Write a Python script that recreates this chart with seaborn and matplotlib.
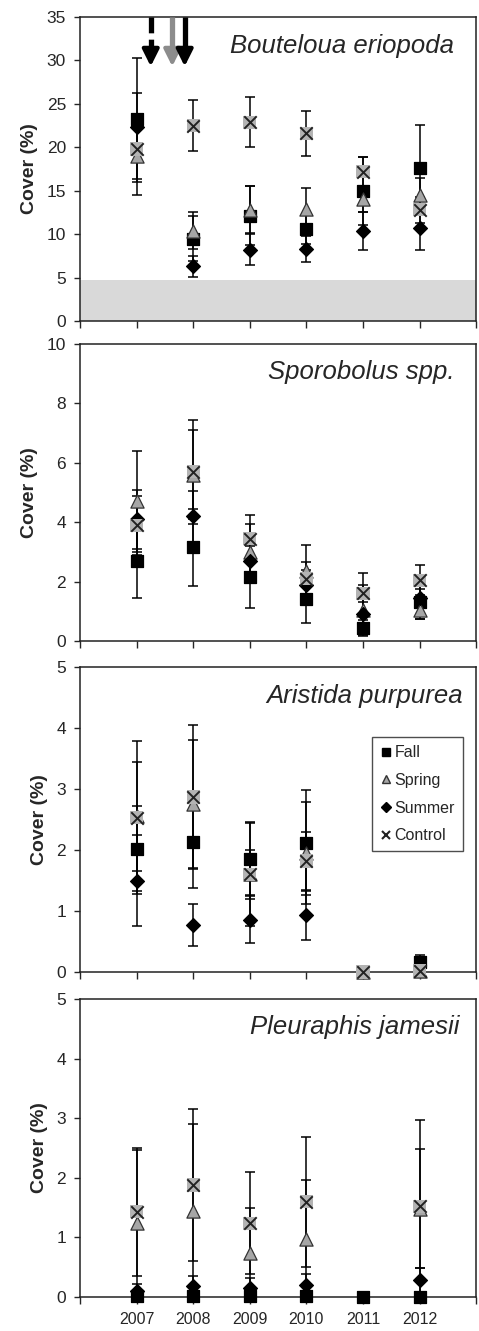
import numpy as np
import pandas as pd
import matplotlib
matplotlib.use("Agg")
import matplotlib.pyplot as plt
from matplotlib.lines import Line2D
import seaborn as sns

years = [2007, 2008, 2009, 2010, 2011, 2012]
treatments = ["Fall", "Spring", "Summer", "Control"]
nan = np.nan

# Bouteloua eriopoda
bout_mean = {"Fall": [23.3, 9.5, 12.1, 10.6, 15.0, 17.6],
             "Spring": [19.0, 10.4, 12.8, 12.9, 14.0, 14.5],
             "Summer": [22.3, 6.3, 8.2, 8.3, 10.4, 10.7],
             "Control": [19.8, 22.5, 22.9, 21.6, 17.2, 12.8]}
bout_err = {"Fall": [7.0, 2.6, 3.4, 1.7, 3.9, 5.0],
            "Spring": [4.5, 2.1, 2.7, 2.4, 1.5, 2.0],
            "Summer": [4.0, 1.2, 1.8, 1.5, 2.2, 2.5],
            "Control": [3.8, 2.9, 2.9, 2.6, 1.7, 1.5]}

# Sporobolus spp.
spor_mean = {"Fall": [2.7, 3.15, 2.15, 1.4, 0.45, 1.3],
             "Spring": [4.7, 5.6, 3.0, 2.35, 1.05, 1.05],
             "Summer": [4.1, 4.2, 2.7, 1.9, 0.9, 1.45],
             "Control": [3.9, 5.7, 3.45, 2.1, 1.6, 2.05]}
spor_err = {"Fall": [1.25, 1.3, 1.05, 0.8, 0.27, 0.55],
            "Spring": [1.7, 1.5, 0.95, 0.9, 0.85, 0.3],
            "Summer": [1.0, 0.85, 0.6, 0.5, 0.4, 0.3],
            "Control": [1.0, 1.75, 0.8, 0.55, 0.7, 0.5]}

# Aristida purpurea
aris_mean = {"Fall": [2.02, 2.13, 1.86, 2.12, nan, 0.16],
             "Spring": [2.55, 2.75, 1.6, 1.95, 0.0, 0.02],
             "Summer": [1.5, 0.77, 0.86, 0.93, nan, nan],
             "Control": [2.53, 2.87, 1.6, 1.82, 0.0, 0.02]}
aris_err = {"Fall": [0.7, 0.76, 0.6, 0.86, nan, 0.12],
            "Spring": [0.9, 1.05, 0.4, 0.83, 0.0, 0.0],
            "Summer": [0.75, 0.34, 0.38, 0.4, nan, nan],
            "Control": [1.25, 1.18, 0.85, 0.48, 0.0, 0.0]}

# Pleuraphis jamesii
pleu_mean = {"Fall": [0.02, 0.01, 0.01, 0.01, 0.0, 0.0],
             "Spring": [1.25, 1.45, 0.74, 0.97, nan, 1.48],
             "Summer": [0.1, 0.18, 0.15, 0.2, nan, 0.28],
             "Control": [1.43, 1.88, 1.24, 1.6, nan, 1.52]}
pleu_err = {"Fall": [0.02, 0.01, 0.01, 0.01, 0.0, 0.0],
            "Spring": [1.22, 1.46, 0.76, 0.99, nan, 1.0],
            "Summer": [0.12, 0.18, 0.17, 0.18, nan, 0.2],
            "Control": [1.07, 1.27, 0.86, 1.09, nan, 1.45]}

species = ["Bouteloua eriopoda", "Sporobolus spp.", "Aristida purpurea", "Pleuraphis jamesii"]
means = [bout_mean, spor_mean, aris_mean, pleu_mean]
errs = [bout_err, spor_err, aris_err, pleu_err]
ymax = [35, 10, 5, 5]
ystep = [5, 2, 1, 1]

# treatment arrows in top panel (dashed black, gray, black)
arrow_x = [2007.25, 2007.63, 2007.85]
arrow_col = ["black", "#8c8c8c", "black"]
arrow_ls = ["--", "-", "-"]
shade_top = 4.75

sns.set_style("ticks")
plt.rcParams['font.family'] = ['Liberation Sans', 'DejaVu Sans']

style = {"Fall": dict(marker="s", color="black", edgecolor="black", s=85),
         "Spring": dict(marker="^", color="#a6a6a6", edgecolor="#333333", s=90),
         "Summer": dict(marker="D", color="black", edgecolor="black", s=50),
         "Control": dict(marker="s", color="#b3b3b3", edgecolor="none", s=90)}

fig = plt.figure(figsize=(4.79, 13.31), dpi=100)
boxes = [(0.7588, 0.9872), (0.5184, 0.7415), (0.2697, 0.4989), (0.0255, 0.2494)]
title_x = [0.945, 0.945, 0.967, 0.958]

for i in range(4):
    b0, b1 = boxes[i]
    ax = fig.add_axes([0.167, b0, 0.827, b1 - b0])
    rows = []
    for t in treatments:
        for y, m, e in zip(years, means[i][t], errs[i][t]):
            rows.append({"year": y, "treatment": t, "cover": m, "err": e})
    df = pd.DataFrame(rows)

    if i == 0:
        ax.axhspan(0, shade_top, color="#d9d9d9", zorder=0, lw=0)

    # error bars first, markers on top
    ok = df.dropna()
    ax.errorbar(ok["year"], ok["cover"], yerr=ok["err"], fmt="none",
                ecolor="black", elinewidth=1.1, capsize=3.5, capthick=1.1, zorder=2)

    for t in treatments:
        sub = df[df["treatment"] == t].dropna()
        st = style[t]
        sns.scatterplot(data=sub, x="year", y="cover", ax=ax, marker=st["marker"],
                        color=st["color"], edgecolor=st["edgecolor"], s=st["s"],
                        linewidth=0.9, zorder=3, legend=False, clip_on=False)
        if t == "Control":
            sns.scatterplot(data=sub, x="year", y="cover", ax=ax, marker="x",
                            color="#222222", s=80, linewidth=1.4, zorder=4,
                            legend=False, clip_on=False)

    ax.set_xlim(2006, 2013)
    ax.set_ylim(0, ymax[i])
    ax.set_yticks(np.arange(0, ymax[i] + 0.01, ystep[i]))
    ax.set_xticks(range(2006, 2014))
    if i == 3:
        ax.set_xticklabels([""] + [str(y) for y in years] + [""], fontsize=11.5)
    else:
        ax.set_xticklabels([])
    ax.tick_params(axis="y", labelsize=12.5, direction="out", length=4, width=1, pad=6)
    ax.tick_params(axis="x", direction="out", length=5, width=1, pad=6)
    ax.set_xlabel("")
    ax.set_ylabel("Cover (%)", fontsize=14, fontweight="bold", labelpad=6)
    for sp in ax.spines.values():
        sp.set_linewidth(1.1)
        sp.set_color("#222222")
    ax.text(title_x[i], 0.905, species[i], transform=ax.transAxes, ha="right",
            va="center", fontsize=18.5, style="italic")

    if i == 0:
        for x, c, ls in zip(arrow_x, arrow_col, arrow_ls):
            ax.plot([x, x], [ymax[0], 30.6], color=c, lw=3.8, ls=ls,
                    dashes=(3.0, 1.2) if ls == "--" else (None, None), zorder=5,
                    solid_capstyle="butt", clip_on=False)
            ax.annotate("", xy=(x, 29.0), xytext=(x, 31.0),
                        arrowprops=dict(arrowstyle="-|>,head_width=0.5,head_length=1.0",
                                        color=c, lw=3.0, mutation_scale=10), zorder=5)

    if i == 2:
        handles = [Line2D([], [], ls="none", marker="s", color="black", markersize=6),
                   Line2D([], [], ls="none", marker="^", markerfacecolor="#a6a6a6",
                          markeredgecolor="#333333", markersize=6),
                   Line2D([], [], ls="none", marker="D", color="black", markersize=5),
                   Line2D([], [], ls="none", marker="x", color="#222222", markersize=6,
                          markeredgewidth=1.5)]
        leg = ax.legend(handles, treatments, loc="upper right", bbox_to_anchor=(0.967, 0.77),
                        fontsize=11.5, frameon=True, fancybox=False, handlelength=0.7,
                        handletextpad=0.2, labelspacing=0.8, borderpad=0.5,
                        borderaxespad=0)
        leg.get_frame().set_edgecolor("#222222")
        leg.get_frame().set_linewidth(1.0)

fig.savefig("out.png", dpi=100)
